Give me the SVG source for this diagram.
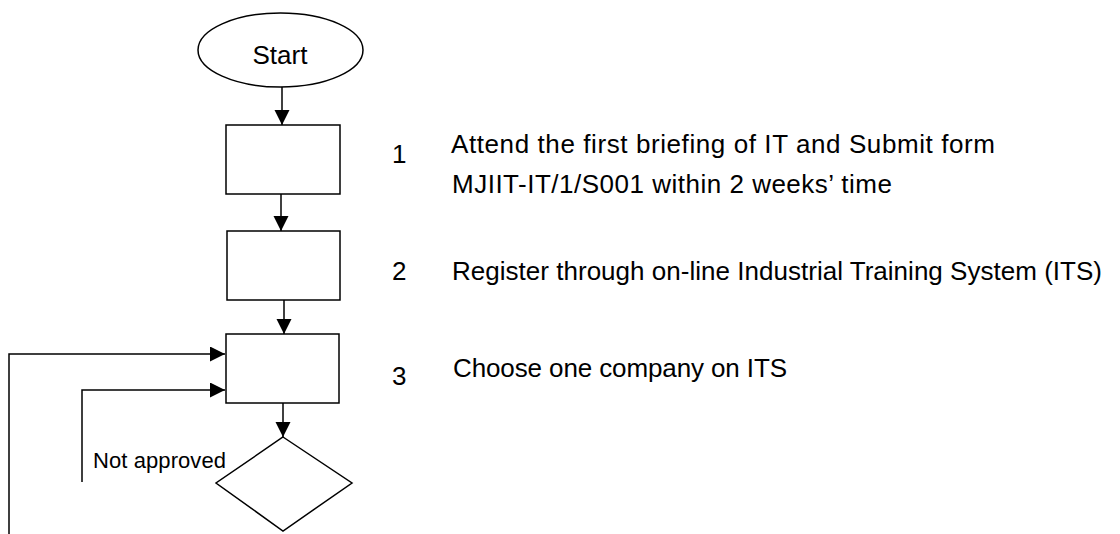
<svg xmlns="http://www.w3.org/2000/svg" width="1120" height="534" viewBox="0 0 1120 534">
  <style>
    .shape { fill: #ffffff; stroke: #000000; stroke-width: 1.5; }
    .conn { fill: none; stroke: #000000; stroke-width: 1.5; }
    .lbl { font-family: "Liberation Sans", Arial, sans-serif; font-size: 26px; fill: #000000; }
    .small { font-family: "Liberation Sans", Arial, sans-serif; font-size: 22px; fill: #000000; }
  </style>
  <defs>
    <marker id="arrow" markerUnits="userSpaceOnUse" markerWidth="16" markerHeight="16" refX="15" refY="7.5" orient="auto">
      <path d="M0,0 L15,7.5 L0,15 z" fill="#000000"/>
    </marker>
  </defs>
  <rect width="1120" height="534" fill="#ffffff"/>

  <g id="connectors">
    <line class="conn" x1="282" y1="87" x2="282" y2="125" marker-end="url(#arrow)"/>
    <line class="conn" x1="281" y1="194" x2="281" y2="231" marker-end="url(#arrow)"/>
    <line class="conn" x1="284" y1="300" x2="284" y2="334" marker-end="url(#arrow)"/>
    <line class="conn" x1="283" y1="403" x2="283" y2="437" marker-end="url(#arrow)"/>
    <path class="conn" d="M9,534 V354 H225" marker-end="url(#arrow)"/>
    <path class="conn" d="M82,482 V390 H225" marker-end="url(#arrow)"/>
  </g>

  <g id="start">
    <ellipse class="shape" cx="280.5" cy="50" rx="82.5" ry="37"/>
    <text class="lbl" x="280" y="64" text-anchor="middle">Start</text>
  </g>

  <g id="step1">
    <rect class="shape" x="226" y="125" width="114" height="69"/>
  </g>
  <g id="step2">
    <rect class="shape" x="227" y="231" width="113" height="69"/>
  </g>
  <g id="step3">
    <rect class="shape" x="226" y="334" width="113" height="69"/>
  </g>
  <g id="decision">
    <polygon class="shape" points="283,437 352,483 283,531 216,483"/>
  </g>

  <g id="label-not-approved">
    <text class="small" x="93" y="468" textLength="133">Not approved</text>
  </g>

  <g id="desc1">
    <text class="lbl" x="392" y="163">1</text>
    <text class="lbl" x="451" y="153" textLength="544">Attend the first briefing of IT and Submit form</text>
    <text class="lbl" x="452" y="193" textLength="440">MJIIT-IT/1/S001 within 2 weeks’ time</text>
  </g>
  <g id="desc2">
    <text class="lbl" x="392" y="280">2</text>
    <text class="lbl" x="452" y="280" textLength="650">Register through on-line Industrial Training System (ITS)</text>
  </g>
  <g id="desc3">
    <text class="lbl" x="392" y="385">3</text>
    <text class="lbl" x="453" y="377" textLength="334">Choose one company on ITS</text>
  </g>
</svg>
